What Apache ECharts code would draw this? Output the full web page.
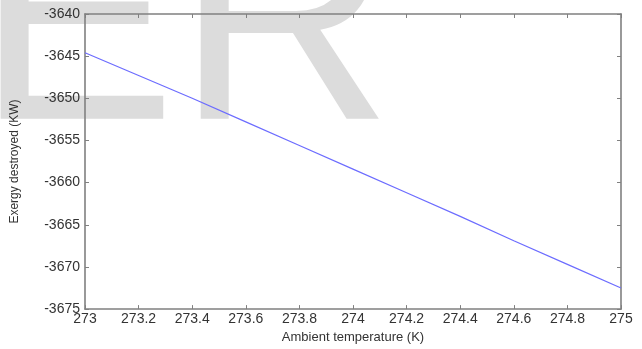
<!DOCTYPE html>
<html>
<head>
<meta charset="utf-8">
<script src="https://cdn.jsdelivr.net/npm/echarts@6/dist/echarts.min.js"></script>
<style>
  html, body { margin: 0; padding: 0; background: #fff; }
  #chart { width: 642px; height: 349px; }
</style>
</head>
<body>
<div id="chart"></div>
<script>
// Ambient temperature (K) and exergy destroyed (kW)
const temperatures = [273, 273.2, 273.4, 273.6, 273.8, 274, 274.2, 274.4, 274.6, 274.8, 275];
const exergyDestroyed = [-3644.6, -3647.3, -3650.0, -3652.8, -3655.6, -3658.4, -3661.2, -3664.0, -3666.9, -3669.7, -3672.5];

const xTicks = { min: 273, max: 275, step: 0.2 };
const yTicks = { min: -3675, max: -3640, step: 5 };

const axisGray = '#808080';
const labelColor = '#333';
const font = 'Liberation Sans, Arial, sans-serif';

const chart = echarts.init(document.getElementById('chart'), null, { renderer: 'canvas' });

const frameAxis = {
  axisLine: { show: true, onZero: false, lineStyle: { color: axisGray, width: 1.6 } },
  axisTick: { show: true, inside: true, length: 4, lineStyle: { color: axisGray, width: 1 } },
  splitLine: { show: false }
};

chart.setOption({
  animation: false,
  backgroundColor: '#fff',
  graphic: [{
    type: 'text',
    z: -10,
    silent: true,
    left: -24,
    top: -114,
    style: {
      text: 'ER',
      font: '300px ' + font,
      fill: '#dcdcdc'
    }
  }],
  grid: { left: 85, right: 21, top: 14, bottom: 32, containLabel: false },
  xAxis: [
    Object.assign({}, frameAxis, {
      type: 'value',
      min: xTicks.min, max: xTicks.max, interval: xTicks.step,
      name: 'Ambient temperature (K)',
      nameLocation: 'middle',
      nameGap: 19,
      nameTextStyle: { color: labelColor, fontFamily: font, fontSize: 13 },
      axisLabel: {
        color: labelColor, fontFamily: font, fontSize: 14, margin: 3,
        formatter: v => String(Math.round(v * 10) / 10)
      }
    }),
    Object.assign({}, frameAxis, {
      type: 'value', position: 'top',
      min: xTicks.min, max: xTicks.max, interval: xTicks.step,
      axisLabel: { show: false }
    })
  ],
  yAxis: [
    Object.assign({}, frameAxis, {
      type: 'value',
      min: yTicks.min, max: yTicks.max, interval: yTicks.step,
      name: 'Exergy destroyed (KW)',
      nameLocation: 'middle',
      nameGap: 64,
      nameTextStyle: { color: labelColor, fontFamily: font, fontSize: 12 },
      axisLabel: {
        color: labelColor, fontFamily: font, fontSize: 14, margin: 5,
        formatter: v => String(v)
      }
    }),
    Object.assign({}, frameAxis, {
      type: 'value', position: 'right',
      min: yTicks.min, max: yTicks.max, interval: yTicks.step,
      axisLabel: { show: false }
    })
  ],
  series: [{
    type: 'line',
    data: temperatures.map((t, i) => [t, exergyDestroyed[i]]),
    showSymbol: false,
    smooth: false,
    lineStyle: { color: '#6c6cff', width: 1.2 },
    z: 5
  }]
});
</script>
</body>
</html>
